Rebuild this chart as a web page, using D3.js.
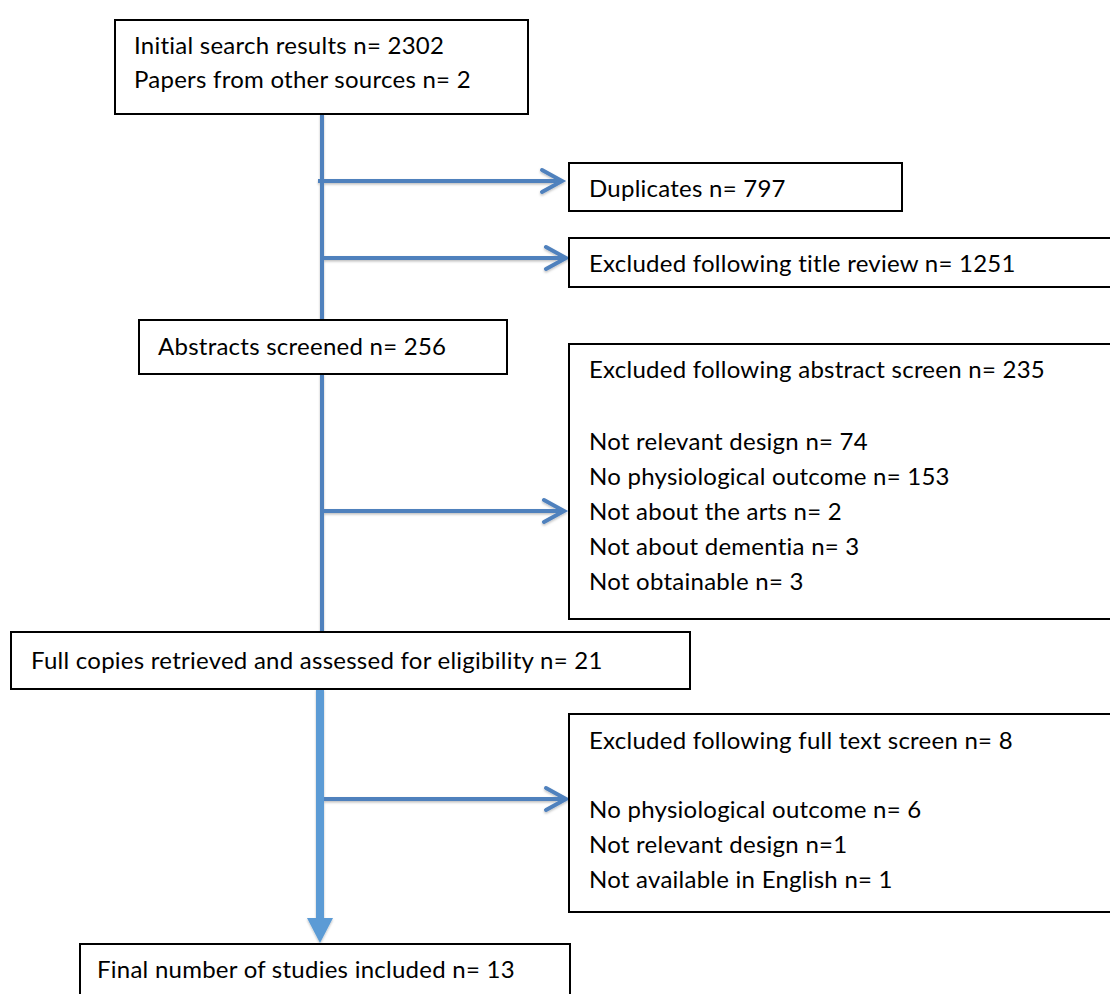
<!DOCTYPE html>
<html>
<head>
<meta charset="utf-8">
<script src="https://cdn.jsdelivr.net/npm/d3@7"></script>
<style>
  html, body { margin: 0; padding: 0; background: #fff; }
  svg { display: block; }
</style>
</head>
<body>
<div id="chart"></div>
<script>
const width = 1110;
const height = 994;

// Données du diagramme
const stageLabels = ["Initial search results", "Papers from other sources", "Abstracts screened",
    "Full copies retrieved and assessed for eligibility", "Final number of studies included"];
const stageCounts = [2302, 2, 256, 21, 13];

const exclusionLabels = ["Duplicates", "Excluded following title review",
    "Excluded following abstract screen", "Excluded following full text screen"];
const exclusionCounts = [797, 1251, 235, 8];

const abstractReasons = ["Not relevant design", "No physiological outcome", "Not about the arts",
    "Not about dementia", "Not obtainable"];
const abstractCounts = [74, 153, 2, 3, 3];

const fullTextReasons = ["No physiological outcome", "Not relevant design", "Not available in English"];
const fullTextCounts = [6, 1, 1];
const fullTextSep = [" n= ", " n=", " n= "];

const fmt = (label, n, sep = " n= ") => label + sep + n;

// Mise en page des boîtes (x, y, largeur, hauteur, lignes)
const boxes = [
    { x: 115, y: 20, w: 413, h: 94, tx: 134,
      lines: [[46, fmt(stageLabels[0], stageCounts[0])], [80, fmt(stageLabels[1], stageCounts[1])]] },
    { x: 569, y: 163, w: 333, h: 48, tx: 589,
      lines: [[189, fmt(exclusionLabels[0], exclusionCounts[0])]] },
    { x: 569, y: 238, w: 560, h: 49, tx: 589,
      lines: [[264, fmt(exclusionLabels[1], exclusionCounts[1])]] },
    { x: 139, y: 320, w: 368, h: 54, tx: 158,
      lines: [[347, fmt(stageLabels[2], stageCounts[2])]] },
    { x: 569, y: 344, w: 560, h: 275, tx: 589,
      lines: [[370, fmt(exclusionLabels[2], exclusionCounts[2])]]
        .concat(abstractReasons.map((r, i) => [442 + i * 34.8, fmt(r, abstractCounts[i])])) },
    { x: 11, y: 632, w: 679, h: 57, tx: 31,
      lines: [[661, fmt(stageLabels[3], stageCounts[3])]] },
    { x: 569, y: 714, w: 560, h: 198, tx: 589,
      lines: [[741, fmt(exclusionLabels[3], exclusionCounts[3])]]
        .concat(fullTextReasons.map((r, i) => [810 + i * 35, fmt(r, fullTextCounts[i], fullTextSep[i])])) },
    { x: 80, y: 944, w: 490, h: 80, tx: 97,
      lines: [[970, fmt(stageLabels[4], stageCounts[4])]] }
];

const blue = "#4f81bd";
const lightBlue = "#5b9bd5";

const svg = d3.select("#chart")
    .append("svg")
    .attr("width", width)
    .attr("height", height);

// Ombre légère des flèches
const defs = svg.append("defs");
const shadow = defs.append("filter").attr("id", "shadow")
    .attr("x", "-20%").attr("y", "-20%").attr("width", "140%").attr("height", "160%");
shadow.append("feDropShadow").attr("dx", 0).attr("dy", 1.5).attr("stdDeviation", 1.2)
    .attr("flood-color", "#000").attr("flood-opacity", 0.25);

const arrows = svg.append("g").attr("filter", "url(#shadow)");

// Lignes verticales
const vLines = [[114, 320], [374, 632]];
arrows.selectAll("line.v")
    .data(vLines)
    .enter()
    .append("line")
    .attr("class", "v")
    .attr("x1", 322).attr("x2", 322)
    .attr("y1", d => d[0]).attr("y2", d => d[1])
    .style("stroke", blue)
    .style("stroke-width", 4);

// Flèches horizontales (y, début, pointe)
const hArrows = [[181, 318, 562], [258, 322, 566], [511, 322, 564], [799, 322, 566]];
const hg = arrows.selectAll("g.h")
    .data(hArrows)
    .enter()
    .append("g")
    .attr("class", "h");

hg.append("line")
    .attr("x1", d => d[1]).attr("x2", d => d[2] - 2)
    .attr("y1", d => d[0]).attr("y2", d => d[0])
    .style("stroke", blue)
    .style("stroke-width", 4);

hg.append("path")
    .attr("d", d => `M${d[2] - 20},${d[0] - 11} L${d[2]},${d[0]} L${d[2] - 20},${d[0] + 11}`)
    .style("fill", "none")
    .style("stroke", blue)
    .style("stroke-width", 4)
    .style("stroke-linecap", "round")
    .style("stroke-linejoin", "miter");

// Flèche épaisse vers la boîte finale
arrows.append("line")
    .attr("x1", 320).attr("x2", 320)
    .attr("y1", 689).attr("y2", 919)
    .style("stroke", lightBlue)
    .style("stroke-width", 8);

arrows.append("path")
    .attr("d", "M307,918 L333,918 L320,943 Z")
    .style("fill", lightBlue);

// Boîtes
const g = svg.selectAll("g.box")
    .data(boxes)
    .enter()
    .append("g")
    .attr("class", "box");

g.append("rect")
    .attr("x", d => d.x)
    .attr("y", d => d.y)
    .attr("width", d => d.w)
    .attr("height", d => d.h)
    .style("fill", "white")
    .style("stroke", "black")
    .style("stroke-width", 2);

g.each(function(d) {
    d3.select(this).selectAll("text")
        .data(d.lines)
        .enter()
        .append("text")
        .attr("x", d.tx)
        .attr("y", l => l[0])
        .attr("dy", "0.35em")
        .style("font-family", "Lato, 'Open Sans', sans-serif")
        .style("font-size", "24px")
        .style("letter-spacing", "0.25px")
        .style("fill", "#000")
        .text(l => l[1]);
});
</script>
</body>
</html>
